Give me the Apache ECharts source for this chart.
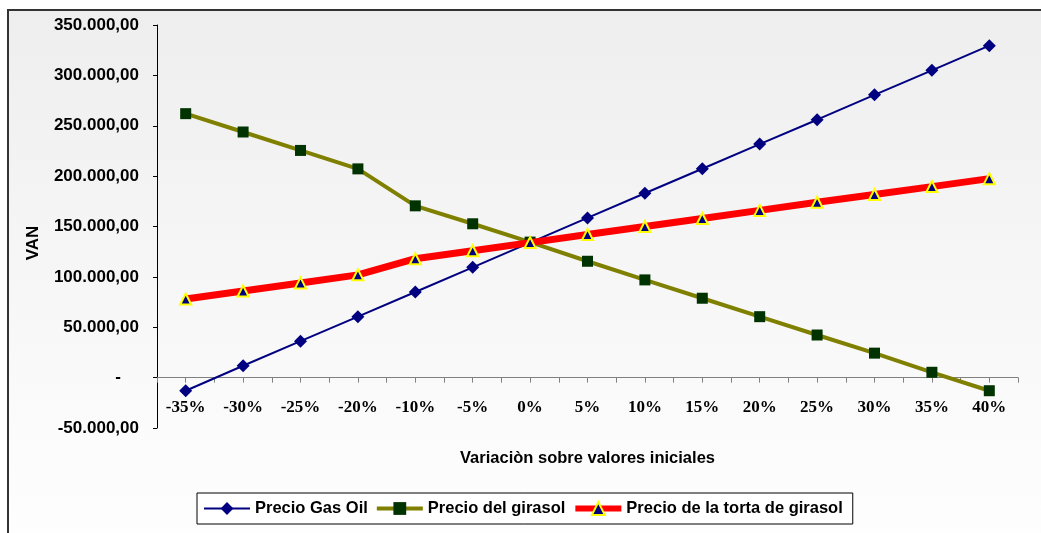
<!DOCTYPE html>
<html>
<head>
<meta charset="utf-8">
<script src="https://cdn.jsdelivr.net/npm/echarts@6/dist/echarts.min.js"></script>
<style>html,body{margin:0;padding:0;background:#fff;}#c{width:1041px;height:533px;}</style>
</head>
<body>
<div id="c"></div>
<script>
const categories = ['-35%','-30%','-25%','-20%','-10%','-5%','0%','5%','10%','15%','20%','25%','30%','35%','40%'];
const gasOil  = [-13000, 11800, 36200, 60500, 85000, 109500, 134000, 158500, 183000, 207300, 231800, 256000, 280700, 305000, 329500];
const girasol = [262000, 243800, 225500, 207200, 170500, 152700, 134500, 115500, 97000, 78800, 60500, 42300, 24300, 5300, -13000];
const torta   = [78000, 86000, 94000, 102000, 118000, 126000, 134000, 142000, 150000, 158000, 166000, 174000, 181800, 189600, 197500];
const seriesNames = ['Precio Gas Oil', 'Precio del girasol', 'Precio de la torta de girasol'];
const yTitle = 'VAN';
const xTitle = 'Variaciòn sobre valores iniciales';

function fmt(v) {
  if (v === 0) return '{z|-}';
  const s = Math.abs(v).toFixed(0).replace(/\B(?=(\d{3})+(?!\d))/g, '.') + ',00';
  return (v < 0 ? '-' : '') + s;
}

const chart = echarts.init(document.getElementById('c'), null, {renderer: 'canvas'});
const sans = '"Liberation Sans", Arial, sans-serif';
const serif = '"Liberation Serif", "Times New Roman", serif';

chart.setOption({
  animation: false,
  graphic: [
    {
      type: 'rect', z: -10, silent: true,
      shape: {x: 8, y: 10, width: 1100, height: 600},
      style: {
        fill: {type: 'linear', x: 0, y: 0, x2: 0, y2: 1, colorStops: [
          {offset: 0, color: '#eeeeee'}, {offset: 0.75, color: '#fcfcfc'}, {offset: 1, color: '#ffffff'}]},
        stroke: '#333333', lineWidth: 2
      }
    },
    {
      type: 'text', x: 33, y: 243, rotation: Math.PI / 2,
      style: {text: yTitle, font: 'bold 17px ' + sans, fill: '#000', align: 'center', verticalAlign: 'middle'}
    },
    {
      type: 'text', x: 587.5, y: 458,
      style: {text: xTitle, font: 'bold 16.5px ' + sans, fill: '#000', align: 'center', verticalAlign: 'middle'}
    }
  ],
  grid: {left: 157, right: 23, top: 25, bottom: 105, containLabel: false},
  legend: {
    data: [
      {name: seriesNames[0]},
      {name: seriesNames[1], lineStyle: {width: 4}},
      {name: seriesNames[2], lineStyle: {width: 6}}
    ],
    left: 197, top: 493,
    backgroundColor: '#ffffff',
    borderColor: '#000000', borderWidth: 1,
    padding: [7, 10, 7, 6],
    itemWidth: 46, itemHeight: 16, itemGap: 7,
    textStyle: {fontFamily: sans, fontWeight: 'bold', fontSize: 16.5, color: '#000'}
  },
  xAxis: [
    {
      type: 'category', data: categories, boundaryGap: true, position: 'bottom',
      axisLine: {onZero: true, lineStyle: {color: '#808080', width: 1}},
      axisTick: {show: true, interval: 0, length: 5, lineStyle: {color: '#808080'}},
      axisLabel: {interval: 0, margin: -29, fontFamily: serif, fontWeight: 'bold', fontSize: 17, color: '#000'},
      splitLine: {show: false}
    },
    {
      type: 'category', data: categories, boundaryGap: true, position: 'bottom', offset: -50.4,
      axisLine: {show: false, onZero: false},
      axisTick: {show: true, interval: 0, alignWithLabel: true, length: 5, lineStyle: {color: '#808080'}},
      axisLabel: {show: false},
      splitLine: {show: false}
    }
  ],
  yAxis: {
    type: 'value', min: -50000, max: 350000, interval: 50000,
    axisLine: {show: true, lineStyle: {color: '#000000', width: 1}},
    axisTick: {show: true, inside: false, length: 4, lineStyle: {color: '#000'}},
    splitLine: {show: false},
    axisLabel: {
      margin: 18, formatter: fmt,
      fontFamily: sans, fontWeight: 'bold', fontSize: 17, color: '#000',
      rich: {z: {fontFamily: sans, fontWeight: 'bold', fontSize: 17, color: '#000', padding: [0, 18, 0, 0]}}
    }
  },
  series: [
    {
      name: seriesNames[0], type: 'line', data: gasOil, xAxisIndex: 0,
      symbol: 'diamond', symbolSize: 13,
      lineStyle: {color: '#000080', width: 2},
      itemStyle: {color: '#000080', borderColor: '#000080', borderWidth: 0},
      z: 3
    },
    {
      name: seriesNames[1], type: 'line', data: girasol, xAxisIndex: 0,
      symbol: 'rect', symbolSize: 11,
      lineStyle: {color: '#808000', width: 4},
      itemStyle: {color: '#003300', borderColor: '#003300', borderWidth: 0},
      z: 4
    },
    {
      name: seriesNames[2], type: 'line', data: torta, xAxisIndex: 0,
      symbol: 'triangle', symbolSize: 11,
      lineStyle: {color: '#ff0000', width: 7},
      itemStyle: {color: '#000080', borderColor: '#ffff00', borderWidth: 2},
      z: 5
    }
  ]
});
</script>
</body>
</html>
